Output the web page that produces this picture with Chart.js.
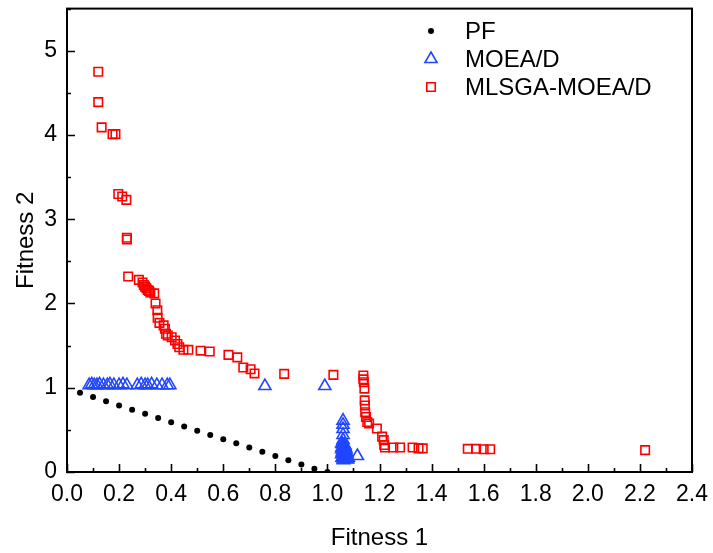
<!DOCTYPE html>
<html>
<head>
<meta charset="utf-8">
<script src="https://cdn.jsdelivr.net/npm/chart.js@4.4.1/dist/chart.umd.min.js"></script>
<style>
    html, body { margin: 0; padding: 0; background: #fff; }
    #wrap { width: 713px; height: 553px; }
</style>
</head>
<body>
<div id="wrap"><canvas id="grafico"></canvas></div>
<script>
// ========= Datos =========
const xTicks = [0.0, 0.2, 0.4, 0.6, 0.8, 1.0, 1.2, 1.4, 1.6, 1.8, 2.0, 2.2, 2.4];
const yTicks = [0, 1, 2, 3, 4, 5];
const xTickLabels = ['0.0', '0.2', '0.4', '0.6', '0.8', '1.0', '1.2', '1.4', '1.6', '1.8', '2.0', '2.2', '2.4'];
const yTickLabels = ['0', '1', '2', '3', '4', '5'];

const seriesNames = ['PF', 'MOEA/D', 'MLSGA-MOEA/D'];

// frente de Pareto
const pfX = [0.05, 0.10, 0.15, 0.20, 0.25, 0.30, 0.35, 0.40, 0.45, 0.50,
             0.55, 0.60, 0.65, 0.70, 0.75, 0.80, 0.85, 0.90, 0.95, 1.00];
const pfY = [0.94, 0.89, 0.84, 0.79, 0.74, 0.69, 0.64, 0.59, 0.54, 0.49,
             0.44, 0.39, 0.34, 0.29, 0.24, 0.19, 0.14, 0.09, 0.04, 0.00];

// MOEA/D
const moeaX = [0.085, 0.095, 0.105, 0.115, 0.125, 0.14, 0.155, 0.165, 0.18, 0.20,
               0.215, 0.23, 0.27, 0.285, 0.30, 0.31, 0.325, 0.345, 0.365, 0.385, 0.395,
               0.76, 0.99,
               1.06, 1.06, 1.06, 1.06, 1.06,
               1.055, 1.065, 1.06, 1.07, 1.055, 1.065, 1.06, 1.075, 1.055, 1.07, 1.06, 1.08, 1.065, 1.06,
               1.058, 1.062, 1.068, 1.056, 1.072, 1.064, 1.058, 1.074, 1.066, 1.056, 1.07, 1.062,
               1.078, 1.06, 1.068, 1.057, 1.073, 1.065,
               1.115];
const moeaY = [1.03, 1.04, 1.03, 1.03, 1.04, 1.03, 1.03, 1.04, 1.03, 1.03,
               1.04, 1.03, 1.03, 1.04, 1.03, 1.03, 1.04, 1.03, 1.03, 1.03, 1.03,
               1.02, 1.02,
               0.61, 0.56, 0.51, 0.44, 0.38,
               0.34, 0.32, 0.30, 0.28, 0.27, 0.25, 0.23, 0.22, 0.21, 0.19, 0.18, 0.17, 0.16, 0.15,
               0.33, 0.31, 0.29, 0.29, 0.26, 0.24, 0.24, 0.20, 0.20, 0.17, 0.17, 0.14,
               0.15, 0.26, 0.31, 0.22, 0.18, 0.16,
               0.19];

// MLSGA-MOEA/D
const mlsgaX = [0.12, 0.12, 0.133, 0.175, 0.186, 0.197, 0.212, 0.228, 0.23, 0.23,
                0.235, 0.276, 0.29, 0.295, 0.30, 0.305, 0.31, 0.315, 0.32, 0.335,
                0.34, 0.347, 0.348, 0.355, 0.371, 0.376, 0.38, 0.387, 0.402, 0.415,
                0.424, 0.431, 0.447, 0.466, 0.513, 0.548, 0.62, 0.654, 0.677, 0.705,
                0.72, 0.834, 1.023,
                1.138, 1.138, 1.14, 1.142, 1.143, 1.144, 1.145, 1.148, 1.153, 1.16,
                1.19, 1.21, 1.216, 1.218, 1.221, 1.253, 1.279, 1.327, 1.35, 1.366,
                1.539, 1.571, 1.60, 1.625, 2.22];
const mlsgaY = [4.75, 4.39, 4.09, 4.01, 4.01, 3.30, 3.27, 3.23, 2.78, 2.76,
                2.32, 2.28, 2.25, 2.22, 2.20, 2.18, 2.16, 2.15, 2.13, 2.12,
                2.00, 1.92, 1.83, 1.77, 1.74, 1.70, 1.64, 1.62, 1.60, 1.56,
                1.52, 1.48, 1.45, 1.45, 1.44, 1.43, 1.39, 1.36, 1.24, 1.22,
                1.17, 1.165, 1.153,
                1.145, 1.10, 1.066, 0.99, 0.85, 0.79, 0.71, 0.653, 0.594, 0.575,
                0.516, 0.42, 0.378, 0.32, 0.29, 0.29, 0.29, 0.29, 0.28, 0.28,
                0.275, 0.275, 0.27, 0.27, 0.26];

const toPoints = (xs, ys) => xs.map((x, i) => ({ x: x, y: ys[i] }));

// ========= Plugins =========
// marco completo + ticks hacia adentro (mayores y menores)
const marcoPlugin = {
    id: 'marco',
    afterDraw(chart) {
        const { ctx, chartArea } = chart;
        const { left, right, top, bottom } = chartArea;
        const sx = chart.scales.x, sy = chart.scales.y;
        ctx.save();
        ctx.strokeStyle = '#000';
        ctx.lineWidth = 1.6;
        ctx.beginPath();
        for (let i = 0; i < xTicks.length; i++) {
            const px = Math.round(sx.getPixelForValue(xTicks[i])) + 0.5;
            ctx.moveTo(px, bottom); ctx.lineTo(px, bottom - 8);
            if (i < xTicks.length - 1) {
                const pm = Math.round(sx.getPixelForValue((xTicks[i] + xTicks[i + 1]) / 2)) + 0.5;
                ctx.moveTo(pm, bottom); ctx.lineTo(pm, bottom - 4);
            }
        }
        for (let i = 0; i < yTicks.length; i++) {
            const py = Math.round(sy.getPixelForValue(yTicks[i])) + 0.5;
            ctx.moveTo(left, py); ctx.lineTo(left + 8, py);
            const pm = Math.round(sy.getPixelForValue(yTicks[i] + 0.5)) + 0.5;
            if (pm > top) { ctx.moveTo(left, pm); ctx.lineTo(left + 4, pm); }
        }
        ctx.stroke();
        ctx.lineWidth = 2;
        ctx.strokeRect(left, top, right - left, bottom - top);
        ctx.restore();
    }
};

// leyenda dentro del área de gráfico
const leyendaPlugin = {
    id: 'leyenda',
    afterDraw(chart) {
        const { ctx } = chart;
        const marcaX = 431, textoX = 465, filas = [31, 59, 87];
        ctx.save();
        ctx.font = '24px "Liberation Sans", Arial, sans-serif';
        ctx.textBaseline = 'middle';
        chart.data.datasets.forEach((ds, i) => {
            ctx.strokeStyle = ds.borderColor;
            ctx.fillStyle = ds.backgroundColor;
            ctx.lineWidth = ds.borderWidth;
            Chart.helpers.drawPoint(ctx, {
                pointStyle: ds.pointStyle,
                radius: ds.pointRadius,
                borderWidth: ds.borderWidth,
                rotation: 0
            }, marcaX, filas[i]);
            ctx.fillStyle = '#000';
            ctx.fillText(seriesNames[i], textoX, filas[i] + 1);
        });
        ctx.restore();
    }
};

// ========= Gráfico =========
const fuenteTicks = { family: '"Liberation Sans", Arial, sans-serif', size: 23 };
const fuenteTitulo = { family: '"Liberation Sans", Arial, sans-serif', size: 24 };

new Chart(document.getElementById('grafico'), {
    type: 'scatter',
    data: {
        datasets: [
            {
                label: seriesNames[0],
                data: toPoints(pfX, pfY),
                pointStyle: 'circle',
                pointRadius: 3,
                backgroundColor: '#000',
                borderColor: '#000',
                borderWidth: 0
            },
            {
                label: seriesNames[1],
                data: toPoints(moeaX, moeaY),
                pointStyle: 'triangle',
                pointRadius: 7,
                backgroundColor: 'rgba(0,0,0,0)',
                borderColor: '#2146ff',
                borderWidth: 1.6
            },
            {
                label: seriesNames[2],
                data: toPoints(mlsgaX, mlsgaY),
                pointStyle: 'rect',
                pointRadius: 6,
                backgroundColor: 'rgba(0,0,0,0)',
                borderColor: '#ff0000',
                borderWidth: 1.6
            }
        ]
    },
    plugins: [marcoPlugin, leyendaPlugin],
    options: {
        responsive: true,
        maintainAspectRatio: false,
        animation: false,
        layout: { padding: { top: 6, right: 21, left: 0, bottom: 0 } },
        plugins: { legend: { display: false }, tooltip: { enabled: false } },
        scales: {
            x: {
                type: 'linear',
                min: 0, max: 2.4,
                afterBuildTicks: s => { s.ticks = xTicks.map(v => ({ value: v })); },
                afterFit: s => { s.height = 81; s.paddingLeft = 0; s.paddingRight = 0; },
                grid: { display: false, drawTicks: false },
                border: { display: false },
                ticks: {
                    padding: 9,
                    color: '#000',
                    font: fuenteTicks,
                    maxRotation: 0,
                    autoSkip: false,
                    callback: (v, i) => xTickLabels[i]
                },
                title: { display: true, text: 'Fitness 1', color: '#000', font: fuenteTitulo, padding: { top: 4, bottom: 0 } }
            },
            y: {
                type: 'linear',
                min: 0, max: 5.5,
                afterBuildTicks: s => { s.ticks = yTicks.map(v => ({ value: v })); },
                afterFit: s => { s.width = 67; s.paddingTop = 0; s.paddingBottom = 0; },
                grid: { display: false, drawTicks: false },
                border: { display: false },
                ticks: {
                    padding: 10,
                    color: '#000',
                    font: fuenteTicks,
                    autoSkip: false,
                    callback: (v, i) => yTickLabels[i]
                },
                title: { display: true, text: 'Fitness 2', color: '#000', font: fuenteTitulo, padding: { top: 12, bottom: 0 } }
            }
        }
    }
});
</script>
</body>
</html>
